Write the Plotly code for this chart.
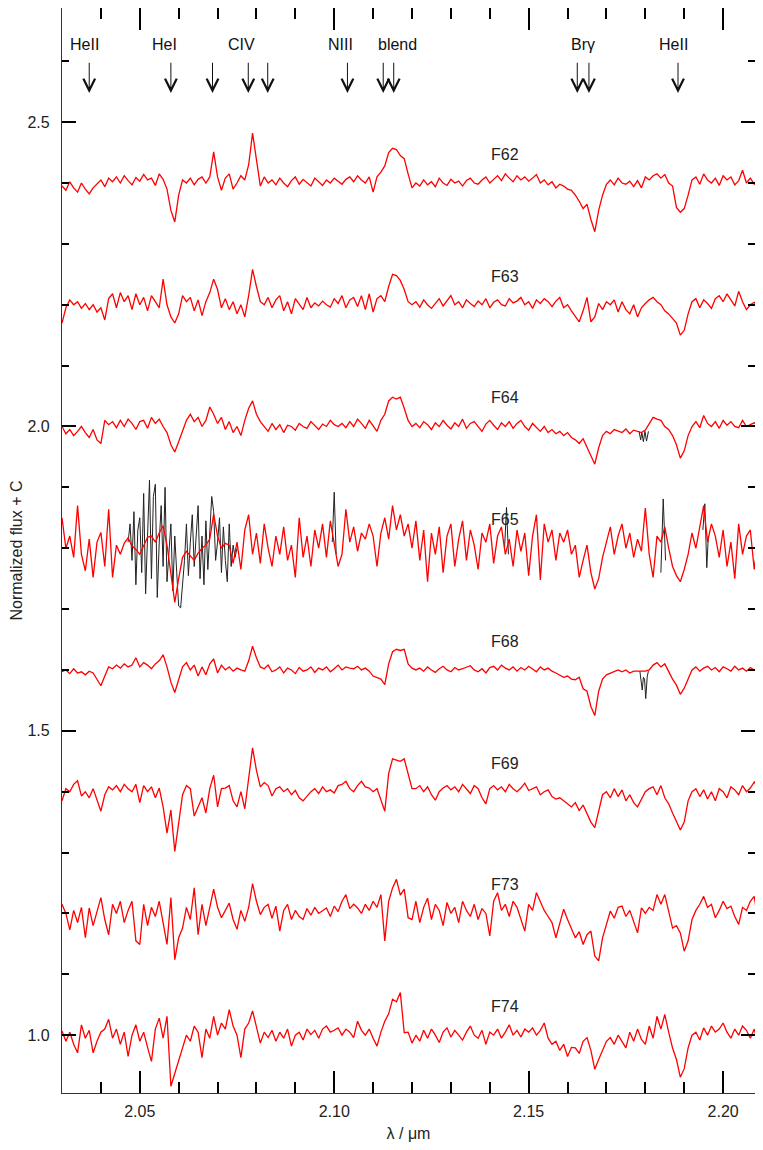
import numpy as np
import plotly.graph_objects as go

# wavelength grid of the rebinned spectra (micron)
wave = np.linspace(2.03, 2.21, 181)

# normalized flux - 1, in units of 1e-3
f62 = [-5, -12, 2, -8, -15, 0, -10, -18, -8, -2,
       5, -6, 8, 2, 10, 0, 12, 4, -3, 9,
       3, 14, 5, 8, -4, 15, 6, -10, -45, -64,
       -20, 5, 0, 8, -3, 6, 10, 0, 10, 51,
       10, -12, 8, 15, -10, 0, 12, 5, 30, 82,
       35, -5, 10, 0, 5, -3, 8, 0, -6, 4,
       10, -2, 6, 0, -5, 8, 2, -4, 5, 0,
       8, 3, -2, 6, 10, 2, 12, 5, 0, 10,
       -15, 10, 18, 28, 50, 57, 55, 45, 40, 15,
       -8, 0, -5, 5, -3, 2, -6, 8, 0, -4,
       6, 0, 3, -5, 4, 8, 0, -2, 5, 10,
       0, 6, 12, 4, 15, 8, 2, 12, 5, 10,
       3, 8, 14, 0, 5, -3, 2, -8, -2, -5,
       -10, -12, -20, -30, -42, -35, -60, -80, -45, -20,
       -2, 5, -3, 8, 0, -2, 3, -6, 4, -8,
       10, 5, 12, 15, 8, 14, 0, -5, -40, -48,
       -42, -20, 5, 10, -2, 15, 5, 0, 8, -4,
       12, 5, 10, -3, 4, 21, 0, 8, -2, 5,
       0]

f63 = [-30, -5, 8, 0, 5, -6, 2, -8, 0, -12,
       -5, -25, 10, 18, -5, 20, 5, 15, -8, 18,
       0, 12, -10, 15, 5, -5, 42, 0, -20, -30,
       -15, 15, 5, 12, -10, 8, -18, 5, 20, 42,
       25, -5, 10, -8, 5, -15, 0, -20, 15, 58,
       30, 5, 0, 12, -5, 8, 15, -10, 5, -15,
       10, 0, -8, 12, -5, 3, -2, 6, 0, -4,
       10, 2, 15, -5, 8, 12, -3, 15, -8, 18,
       -12, 10, 15, 5, 30, 50, 48, 40, 25, 5,
       0, 5, -4, 8, 0, -6, 3, 10, -2, 6,
       15, 0, 5, -5, 8, 2, -3, 6, 0, 10,
       -5, 4, 8, 0, -2, 10, 3, 6, 12, 0,
       5, -6, 8, 2, 10, 5, -3, 6, 12, -5,
       0, -10, -20, -28, -10, 12, -28, -20, 2, -8,
       5, 0, 8, -12, 5, -8, -15, 0, -20, -5,
       2, 8, 12, 5, 0, -10, -15, -22, -30, -50,
       -42, -15, 5, 10, -5, 8, 2, -6, 10, 15,
       5, 18, 8, -2, 22, 5, -8, 0, 4, -5,
       0]

f64 = [0, -12, -5, -15, -8, 0, -10, -18, -5, -22,
       -28, 10, 3, 8, -2, 10, 0, 12, 5, -5,
       8, 10, -3, 15, 5, 12, 0, -10, -30, -42,
       -25, -8, 10, 20, 8, 15, 0, 10, 32, 20,
       5, 15, -5, 8, -10, 0, -15, 10, 30, 42,
       20, 8, 0, -8, 5, -5, 3, -10, 2, 0,
       -6, 5, 0, -3, 8, 2, -5, 4, 0, 10,
       3, 0, 5, -2, 8, 0, 12, 5, -3, 10,
       0, -8, 10, 20, 42, 48, 45, 48, 30, 10,
       0, 5, -2, 8, 3, -5, 6, 0, 10, 2,
       -4, 6, 0, 12, -3, 5, 8, 0, -8, 4,
       10, 2, -5, 6, 0, 8, -3, 5, 10, 0,
       -6, 5, -2, -8, 0, -10, -5, -12, -8, -15,
       -10, -18, -22, -28, -20, -35, -50, -62, -35, -15,
       -8, -12, -5, -8, -10, -4, -12, -6, -8, -10,
       -6, 5, 15, 12, 10, 0, -5, -15, -30, -52,
       -40, -15, 0, 8, -2, 18, 5, 0, 8, -3,
       10, 2, 8, 0, -2, 10, 0, 3, 6, 2,
       5]

f65 = [50, 0, 20, -15, 70, -10, -37, 15, -48, 10,
       26, -30, 64, -48, 5, -10, 8, 17, 4, -2,
       -10, 5, 18, 20, 10, 25, 37, 5, -40, -89,
       -50, -15, -5, -12, -20, -8, 0, 5, 15, 56,
       20, 0, 8, 5, -25, 10, -35, 30, 55, -10,
       25, -25, 40, 0, -30, 20, -10, 35, -20, 5,
       -48, 50, -15, 20, -30, 30, 0, 40, -15, 45,
       5, -30, -10, 64, 10, 35, -5, 25, 15, 40,
       20, -30, 25, 50, 15, 70, 30, 55, 20, 40,
       0, 45, -20, 30, -55, 25, -10, 35, -40, 20,
       40, -30, 15, 45, -20, 30, 5, -35, 25, 10,
       40, -25, 20, 35, -10, 15, -30, 30, -5, 25,
       -45, 20, 55, -52, 40, 10, 30, -20, 25, 10,
       30, -10, 5, -48, -20, 5, -40, -67, -50, -15,
       10, 35, -10, 20, 40, 0, 25, -15, 15, -5,
       66, -10, -48, 20, 10, 35, 0, -30, -45, -55,
       -35, -10, 25, 0, 35, 70, 10, 40, 20, -15,
       30, -30, 10, -50, 40, -10, 20, 30, -35, 15,
       5]

f68 = [-3, 0, -6, 2, -5, -3, -8, -2, -5, -15,
       -26, -10, 5, 2, 8, 3, 10, 5, 8, 20,
       5, 12, 8, 2, 10, 15, 25, 5, -20, -37,
       -15, 5, 12, 0, 8, -10, 5, -8, 10, 18,
       -5, 8, 0, 5, -2, 3, 0, -2, 15, 39,
       20, 5, 2, 8, -3, 0, 5, -5, 3, 0,
       -6, 4, -2, 0, 5, -4, 3, 0, 5, -3,
       2, 8, 0, 5, 3, 2, 6, 0, 3, -2,
       -10, -12, -15, -24, 10, 30, 34, 32, 34, 10,
       3, 0, 3, -2, 5, 0, -4, 2, 6, 0,
       -3, 4, 0, 2, 5, 7, 0, -3, 2, -5,
       4, 6, 0, 8, 3, 0, 5, -2, 4, 0,
       6, 2, -3, 5, 0, 3, -2, -5, -8, -12,
       -10, -15, -16, -12, -31, -35, -60, -75, -35, -15,
       -8, -5, -2, 0, -3, 0, -5, -2, -2, -2,
       -2, 0, 8, 12, 5, 10, -3, -15, -25, -40,
       -30, -15, 0, 5, -2, 3, 6, 0, 4, -3,
       5, 2, -2, 6, 0, 3, -2, 4, 0, 3,
       1]

f69 = [-15, 5, 0, 12, 18, -7, 0, -10, 5, -15,
       -32, -5, 8, 3, 10, 0, 12, 5, 0, 12,
       -18, 10, 0, 8, -10, 6, -25, -68, -30, -98,
       -48, -5, 10, 5, -40, -25, -10, -35, 5, 27,
       -25, 5, 6, 10, -15, -25, 0, -28, 20, 72,
       35, 8, 15, 10, -7, 5, 8, 0, 5, -5,
       2, -10, -15, -8, 0, 5, -3, 8, 0, 3,
       -2, 10, 12, 17, 5, 0, 10, 17, 8, 6,
       0, 5, -15, -32, 30, 54, 52, 50, 54, 28,
       5, 5, 10, 0, 8, -5, -14, 0, 6, 10,
       3, 8, 0, 12, 5, -3, 10, 5, -10, -20,
       5, 10, 3, 8, 0, 12, 5, 0, 6, 14,
       2, 5, 8, -5, 0, 3, -8, -12, -10, -15,
       -20, -25, -18, -31, -22, -35, -50, -59, -30, -5,
       0, -10, 5, -8, 3, -15, -5, -18, -25, -12,
       0, 5, 8, -5, 10, -10, -20, -35, -50, -63,
       -50, -15, 0, 5, -8, 3, -12, 0, -15, 5,
       0, -10, 8, 3, -5, 10, 0, 6, 16, 5,
       10]

f73 = [15, 0, -27, 5, -15, 10, -40, 9, -20, 5,
       26, -10, -35, 15, 0, 20, -15, 5, 20, -45,
       -51, 15, -20, 10, -5, 20, -15, -51, 26, -76,
       -40, -24, 10, -10, 42, -35, 15, -20, 10, 40,
       10, -7, 5, 17, -10, -26, 5, -13, 10, 49,
       20, -2, 10, 15, -8, 12, -29, 5, 15, -10,
       5, -5, -10, 8, -3, 10, 0, 5, 9, -5,
       12, 3, 20, 31, 8, 15, 9, 0, 15, 5,
       20, 10, 31, -45, 20, 42, 56, 30, 40, -7,
       -10, 20, -15, 10, 25, -10, 15, 5, -20, 18,
       0, 10, -15, 20, 5, -5, 15, -10, 8, 0,
       -37, 20, 34, 5, 15, -5, 20, 10, -10, -29,
       15, 5, 34, 20, 5, -5, -15, -40, -15, 7,
       -10, -25, -40, -30, -51, -35, -29, -70, -78, -40,
       -20, 4, -8, 10, 12, -5, 5, -15, -32, 9,
       0, 10, 5, 31, 15, 31, 5, -24, -20, -32,
       -62, -45, -10, 5, 15, 28, 10, 15, -7, 5,
       20, 8, 12, -5, -18, 10, 5, 20, 28, -13,
       5]

f74 = [7, -10, 5, -15, -29, 17, -5, 8, -29, -10,
       5, 10, 26, -5, 10, -15, 5, -35, 0, 17,
       -10, 5, -20, -43, 10, 28, -5, 31, -84, -62,
       -40, -18, 0, -10, 15, 5, -37, 10, -5, 31,
       0, 20, 10, 42, 15, 0, -37, 10, 20, 40,
       15, -13, 5, -4, 8, -10, 5, -5, 10, -18,
       0, 5, -8, 10, 1, 8, -5, 10, 15, 5,
       8, 12, 0, 10, 5, -4, 23, 8, 0, 10,
       -5, -18, 5, 23, 35, 59, 55, 70, 4, 5,
       -13, 0, -10, 8, -5, 10, 0, -12, 5, 12,
       -3, 8, 0, -8, 5, 15, 0, -5, 8, -15,
       5, 0, 10, -5, 5, 17, 0, 8, -3, 10,
       5, 12, 0, 8, 20, -5, -15, -10, -25, -15,
       -35, -20, -21, -30, -10, -4, -25, -56, -40, -25,
       -10, -4, -15, 0, -10, -21, 5, -10, 10, -7,
       -15, 15, -5, 31, 10, 34, 5, -21, -40, -69,
       -55, -21, 0, 5, -8, 12, 0, 15, 5, 10,
       20, 5, -5, 10, 0, 15, 8, -5, 10, -15,
       2]

names = ["F62", "F63", "F64", "F65", "F68", "F69", "F73", "F74"]
spectra = [f62, f63, f64, f65, f68, f69, f73, f74]
offsets = [1.4, 1.2, 1.0, 0.8, 0.6, 0.4, 0.2, 0.0]

# black: alternative reduction, only where it differs from the red one
blk65_wave = np.linspace(2.047, 2.075, 57)
blk65 = [10, 40, -20, 60, -60, 30, 50, -40, 90, -75,
         20, 112, -50, 85, 105, -81, 10, 70, -30, 100,
         -55, 0, 40, -70, 20, -40, -95, -98, -60, -20,
         40, -45, 10, 55, -30, 30, 70, -50, 20, -60,
         45, -35, 30, 85, 60, -20, 10, 50, -40, 35,
         -20, -55, 40, -30, 5, -15, 0]
spk65_wave = [2.0995, 2.1000, 2.1005, None, 2.1438, 2.1443, 2.1448, None,
              2.1840, 2.1846, 2.1852, None, 2.1948, 2.1953, 2.1958, 2.1962]
spk65 = [10, 92, -10, None, 0, 67, -10, None,
         -40, 81, -20, None, 30, 73, -32, 20]
blk64_wave = [2.1784, 2.1788, 2.1791, 2.1795, 2.1799, 2.1803, 2.1808]
blk64 = [-8, -22, -10, -25, -8, -24, -8]
blk68_wave = [2.1786, 2.1789, 2.1792, 2.1795, 2.1798, 2.1801, 2.1805, 2.1808]
blk68 = [-2, -15, -33, -12, -15, -47, -10, -2]

# line identifications
line_wave = [2.0370, 2.0580, 2.0687, 2.0779, 2.0829, 2.1034,
             2.1126, 2.1153, 2.1625, 2.1655, 2.1884]
label_text = ["HeII", "HeI", "CIV", "NIII", "blend", "Br&#947;", "HeII"]
label_wave = [2.0358, 2.0563, 2.0762, 2.1016, 2.1162, 2.1640, 2.1872]


def flux(d, c):
    return [None if v is None else 1 + v / 1000 + c for v in d]


fig = go.Figure()

blk = dict(color="#222222", width=1)
fig.add_trace(go.Scatter(x=blk65_wave, y=flux(blk65, 0.8), mode="lines", line=blk))
fig.add_trace(go.Scatter(x=spk65_wave, y=flux(spk65, 0.8), mode="lines", line=blk))
fig.add_trace(go.Scatter(x=blk64_wave, y=flux(blk64, 1.0), mode="lines", line=blk))
fig.add_trace(go.Scatter(x=blk68_wave, y=flux(blk68, 0.6), mode="lines", line=blk))

for name, d, c in zip(names, spectra, offsets):
    fig.add_trace(go.Scatter(x=wave, y=flux(d, c), mode="lines", name=name,
                             line=dict(color="#ff0000", width=1.3)))
    fig.add_annotation(x=2.1438, y=c + 1.047, text=name, showarrow=False,
                       font=dict(size=16, color="#222"))

for w in line_wave:
    fig.add_annotation(x=w, y=2.548, ax=w, ay=2.600, axref="x", ayref="y",
                       text="", showarrow=True, arrowhead=5, arrowsize=2.3,
                       arrowwidth=1, arrowcolor="#111")
for t, w in zip(label_text, label_wave):
    fig.add_annotation(x=w, y=2.627, text=t, showarrow=False,
                       font=dict(size=16, color="#111"))

axis_style = dict(showline=True, linecolor="#333", linewidth=1.2, mirror="ticks",
                  ticks="inside", tickcolor="#000", tickwidth=1.5, showgrid=False,
                  zeroline=False, automargin=False, layer="above traces",
                  tickfont=dict(size=16, color="#222"))

fig.update_xaxes(range=[2.03, 2.2082], tick0=2.05, dtick=0.05, tickformat=".2f",
                 ticklen=22, ticklabelstandoff=4,
                 minor=dict(dtick=0.01, ticklen=11, ticks="inside",
                            tickcolor="#000", tickwidth=1.5),
                 title=dict(text="&#955; / &#956;m", font=dict(size=16, color="#222"),
                            standoff=9),
                 **axis_style)
fig.update_yaxes(range=[0.905, 2.6875], tick0=0, dtick=0.5, tickformat=".1f",
                 ticklen=14, ticklabelstandoff=8,
                 minor=dict(dtick=0.1, ticklen=7, ticks="inside",
                            tickcolor="#000", tickwidth=1.5),
                 title=dict(text="Normalized flux + C", font=dict(size=16, color="#222"),
                            standoff=17),
                 **axis_style)

# the page body adds an 8 px margin; keep the figure inside the window
fig.update_layout(width=747, height=1134, showlegend=False,
                  plot_bgcolor="white", paper_bgcolor="white",
                  font=dict(family="Liberation Sans, Arial, sans-serif"),
                  margin=dict(l=54, r=0, t=0, b=49))

fig.write_html("out.html")
